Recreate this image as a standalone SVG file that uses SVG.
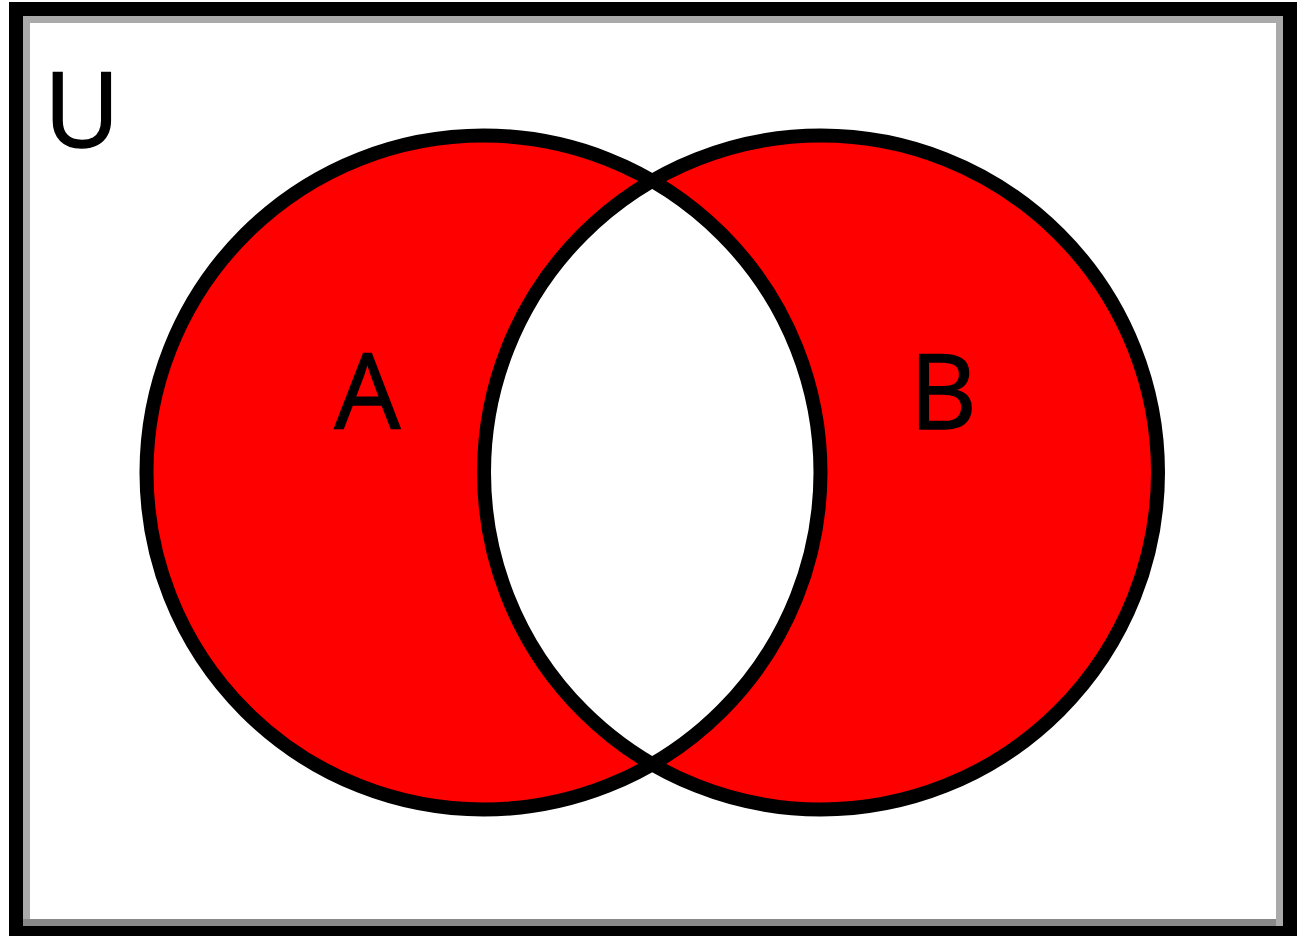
<svg xmlns="http://www.w3.org/2000/svg" width="1309" height="936" viewBox="0 0 1309 936">
<style>
.lbl{font-family:"Open Sans","Noto Sans",Lato,"Liberation Sans",sans-serif;font-size:104px;fill:#000;stroke:#000;stroke-width:1.5;text-anchor:middle}
.ring{fill:none;stroke:#000;stroke-width:14}
</style>
<rect width="1309" height="936" fill="#fff"/>
<g id="universe">
<rect x="9" y="2" width="1288" height="934" fill="#000"/>
<rect x="23" y="16" width="1260" height="910" fill="#aaa"/>
<rect x="23" y="919" width="1253" height="7" fill="#888"/>
<rect x="30" y="23" width="1246" height="896" fill="#fff"/>
<text class="lbl" x="82" y="147">U</text>
</g>
<g id="setA">
<circle cx="483.5" cy="472.5" r="337" fill="#ff0000"/>
</g>
<g id="setB">
<circle cx="821" cy="472.5" r="337" fill="#ff0000"/>
</g>
<g id="intersection">
<path d="M652.25 180.8 A337 337 0 0 1 652.25 764.2 A337 337 0 0 1 652.25 180.8 Z" fill="#fff"/>
</g>
<g id="outlines">
<circle class="ring" cx="483.5" cy="472.5" r="337"/>
<circle class="ring" cx="821" cy="472.5" r="337"/>
</g>
<g id="labels">
<text class="lbl" x="367.5" y="429">A</text>
<text class="lbl" x="943" y="429">B</text>
</g>
<g id="connectors"/>
</svg>
